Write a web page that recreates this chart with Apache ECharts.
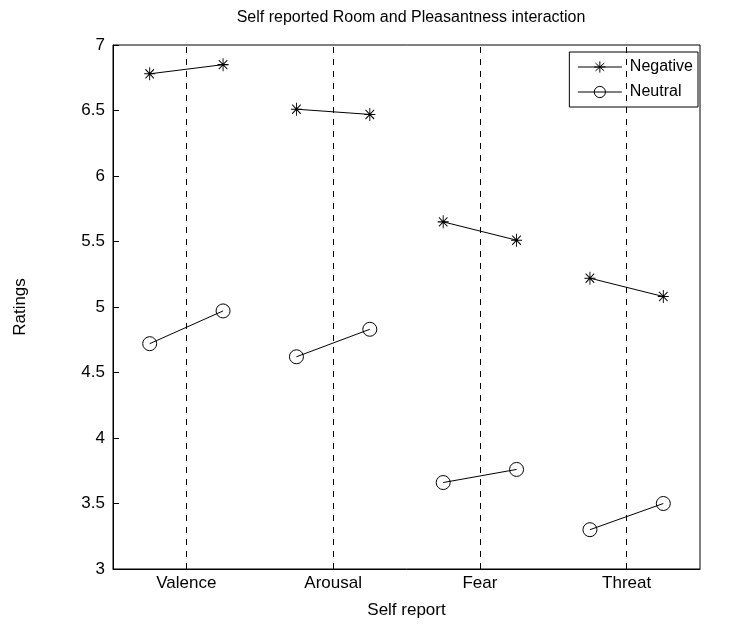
<!DOCTYPE html>
<html><head><meta charset="utf-8">
<script src="https://cdn.jsdelivr.net/npm/echarts@6/dist/echarts.min.js"></script>
<style>html,body{margin:0;padding:0;background:#fff}#c{width:737px;height:624px}</style>
</head><body><div id="c"></div>
<script>
var categories = ['Valence', 'Arousal', 'Fear', 'Threat'];
var negativeValues = [[6.78, 6.85], [6.51, 6.47], [5.65, 5.51], [5.22, 5.08]];
var neutralValues = [[4.72, 4.97], [4.62, 4.83], [3.66, 3.76], [3.30, 3.50]];
var yTicks = [3, 3.5, 4, 4.5, 5, 5.5, 6, 6.5, 7];
var offset = 0.25;

var FONT = 'Liberation Sans, Arial, sans-serif';
var star = 'path://M0,-10L0,10M-9,0L9,0M-7,-7L7,7M-7,7L7,-7';
var ring = 'path://M10,0A10,10 0 1,1 -10,0A10,10 0 1,1 10,0Z';

function makeSeries(name, vals, symbol, size, fill) {
  return vals.map(function (pair, i) {
    return {
      name: name, type: 'line',
      data: [[i + 1 - offset, pair[0]], [i + 1 + offset, pair[1]]],
      symbol: symbol, symbolSize: size, showAllSymbol: true,
      lineStyle: {color: '#000', width: 1},
      itemStyle: {color: fill, borderColor: '#000', borderWidth: 1},
      emphasis: {disabled: true}, animation: false, z: 3
    };
  });
}

var series = [].concat(
  makeSeries('Negative', negativeValues, star, [11, 13], '#000'),
  makeSeries('Neutral', neutralValues, ring, 14, 'rgba(255,255,255,0)')
);
series.push({
  type: 'line', data: [], silent: true, animation: false,
  markLine: {
    symbol: 'none', silent: true, animation: false, label: {show: false},
    lineStyle: {color: '#000', type: [6, 6], width: 1},
    data: categories.map(function (c, i) { return {xAxis: i + 1}; })
  }
});

var chart = echarts.init(document.getElementById('c'), null, {renderer: 'canvas'});
chart.setOption({
  backgroundColor: '#fff',
  animation: false,
  title: {text: 'Self reported Room and Pleasantness interaction', left: 406, textAlign: 'center', top: 5,
    textStyle: {fontFamily: FONT, fontSize: 16, fontWeight: 'normal', color: '#000'}},
  legend: {
    data: ['Negative', 'Neutral'], orient: 'vertical', right: 39, top: 52,
    itemWidth: 44, itemHeight: 14, itemGap: 9,
    padding: [7, 5, 7, 8],
    borderColor: '#000', borderWidth: 1, backgroundColor: '#fff',
    lineStyle: {width: 1},
    itemStyle: {borderWidth: 1},
    textStyle: {fontFamily: FONT, fontSize: 16, color: '#000', padding: [0, 0, 0, 3]}
  },
  grid: {left: 113, right: 37, top: 45, bottom: 24, show: true, borderColor: '#000', borderWidth: 1, containLabel: false},
  xAxis: {
    type: 'value', min: 0.5, max: 4.5, name: 'Self report', nameLocation: 'middle', nameGap: 33,
    nameTextStyle: {fontFamily: FONT, fontSize: 17, color: '#000'},
    axisLine: {lineStyle: {color: '#000'}},
    axisTick: {inside: true, length: 6, lineStyle: {color: '#000'}, customValues: [1, 2, 3, 4]},
    axisLabel: {customValues: [1, 2, 3, 4], fontFamily: FONT, fontSize: 17, color: '#000', margin: 6,
      formatter: function (v) { return categories[Math.round(v) - 1] || ''; }},
    splitLine: {show: false}
  },
  yAxis: {
    type: 'value', min: 3, max: 7, interval: 0.5, name: 'Ratings', nameLocation: 'middle', nameGap: 84,
    nameTextStyle: {fontFamily: FONT, fontSize: 17, color: '#000'},
    axisLine: {lineStyle: {color: '#000'}},
    axisTick: {inside: true, length: 6, lineStyle: {color: '#000'}},
    axisLabel: {fontFamily: FONT, fontSize: 17, color: '#000', margin: 8,
      formatter: function (v) { return String(v); }},
    splitLine: {show: false}
  },
  series: series
});
</script></body></html>
